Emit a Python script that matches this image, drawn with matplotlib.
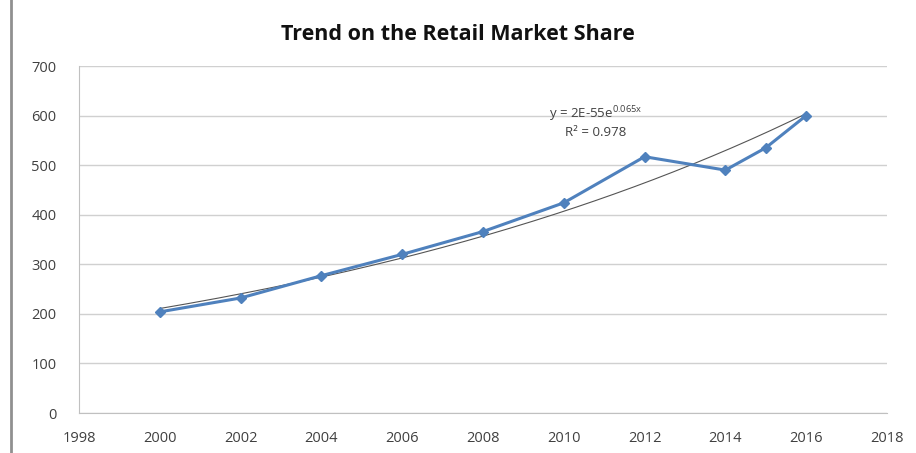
import numpy as np
import matplotlib
matplotlib.use("Agg")
import matplotlib.pyplot as plt
from matplotlib.lines import Line2D

years = [2000, 2002, 2004, 2006, 2008, 2010, 2012, 2014, 2015, 2016]
values = [204, 232, 277, 320, 366, 424, 517, 490, 535, 600]
x_ticks = list(range(1998, 2019, 2))
y_ticks = list(range(0, 701, 100))
title = "Trend on the Retail Market Share"
eq_text = r"y = 2E-55e$^{\mathregular{0.065x}}$"
r2_text = "R² = 0.978"

plt.rcParams['font.family'] = ['Open Sans', 'DejaVu Sans']

fig = plt.figure(figsize=(9.16, 4.53), dpi=100)
ax = fig.add_axes([0.0862, 0.0883, 0.8821, 0.766])

# exponential trend fit
yr = np.array(years, dtype=float)
b, a = np.polyfit(yr - 2000, np.log(values), 1)
xs = np.linspace(2000, 2016, 200)
ax.plot(xs, np.exp(a + b * (xs - 2000)), color='#555555', lw=0.8, zorder=2)

ax.plot(years, values, color='#4F81BD', lw=2.2, marker='D', markersize=5.5,
        markeredgecolor='#4F81BD', zorder=3)

ax.set_xlim(1998, 2018)
ax.set_ylim(0, 700)
ax.set_xticks(x_ticks)
ax.set_yticks(y_ticks)
ax.yaxis.grid(True, color='#d0d0d0', lw=1)
ax.set_axisbelow(True)
for s in ['top', 'right']:
    ax.spines[s].set_visible(False)
for s in ['left', 'bottom']:
    ax.spines[s].set_color('#c0c0c0')
ax.tick_params(axis='both', colors='#c0c0c0', labelcolor='#404040', labelsize=10.5, length=0)
ax.tick_params(axis='y', pad=16)
ax.tick_params(axis='x', pad=13)

ax.text(2010.8, 584, eq_text, ha='center', va='bottom', fontsize=9.5, color='#404040')
ax.text(2010.8, 578, r2_text, ha='center', va='top', fontsize=9.5, color='#404040')

fig.text(0.5, 0.924, title, ha='center', va='center', fontsize=15.5, fontweight='bold', color='#111111')

# left frame border
fig.add_artist(Line2D([0.012, 0.012], [0.0, 1.0], transform=fig.transFigure, color='#909090', lw=2))

fig.savefig('out.png', dpi=100)
